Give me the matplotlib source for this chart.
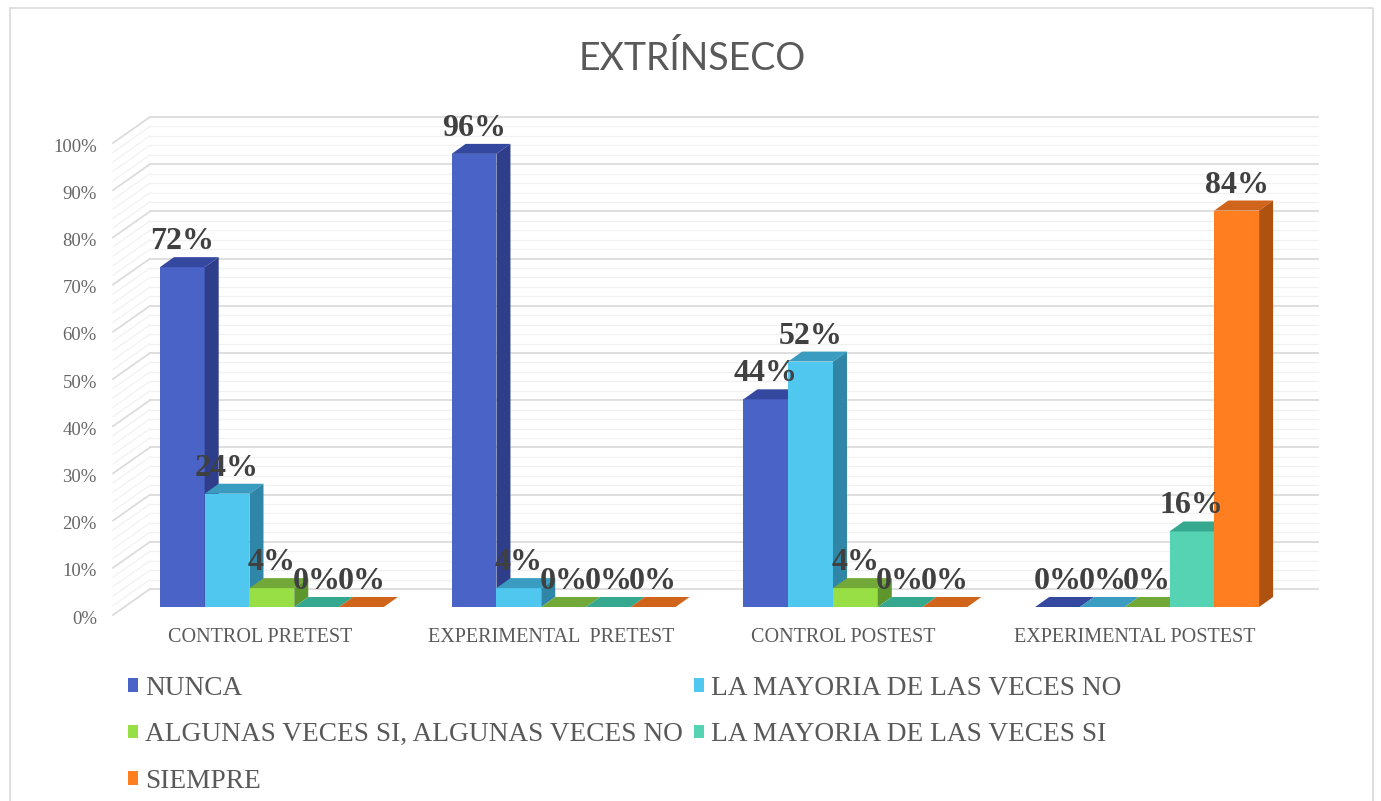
import numpy as np
import matplotlib
matplotlib.use("Agg")
import matplotlib.pyplot as plt
from matplotlib.patches import Polygon, Rectangle, Patch
from matplotlib import transforms

# data
groups = ["CONTROL PRETEST", "EXPERIMENTAL  PRETEST", "CONTROL POSTEST", "EXPERIMENTAL POSTEST"]
series = ["NUNCA", "LA MAYORIA DE LAS VECES NO", "ALGUNAS VECES SI, ALGUNAS VECES NO",
          "LA MAYORIA DE LAS VECES SI", "SIEMPRE"]
nunca = [0.72, 0.96, 0.44, 0.00]
mayoria_no = [0.24, 0.04, 0.52, 0.00]
algunas = [0.04, 0.00, 0.04, 0.00]
mayoria_si = [0.00, 0.00, 0.00, 0.16]
siempre = [0.00, 0.00, 0.00, 0.84]
values = [nunca, mayoria_no, algunas, mayoria_si, siempre]
y_ticks = np.arange(0, 1.001, 0.1)

# front / top / side shades for each series
faces = [
    ("#4A63C6", "#3548A0", "#2E3E8A"),
    ("#4FC7EF", "#3A9CC0", "#2F86A6"),
    ("#98DE45", "#72A838", "#5E962E"),
    ("#55D3B3", "#36A890", "#2E9580"),
    ("#FF7F20", "#D0641A", "#B0520F"),
]

W, H = 1381, 801
fig = plt.figure(figsize=(W / 100, H / 100), dpi=100)
ax = fig.add_axes([126 / W, 194 / H, 1167 / W, 472 / H])
ax.set_xlim(-0.5, 3.5)
ax.set_ylim(0, 1)
for s in ax.spines.values():
    s.set_visible(False)
ax.set_xticks([])

px_x = 1 / 291.75
px_y = 1 / 472
ddx, ddy = 14 * px_x, 10 * px_y   # bar depth
wall_dy = 18 * px_y
wall_x0 = -0.5 + 24 * px_x
wall_x1 = -0.5 + 1192 * px_x
side_x0 = -0.5 - 13 * px_x

# back wall + side wall gridlines (minor every 2 %, major every 10 %)
for k in range(51):
    v = k * 0.02
    major = k % 5 == 0
    col = "#DCDCDC" if major else "#F1F1F1"
    lw = 1.3 if major else 0.9
    ax.plot([wall_x0, wall_x1], [v + wall_dy, v + wall_dy], color=col, lw=lw,
            zorder=1, clip_on=False)
    ax.plot([side_x0, wall_x0], [v - 8 * px_y, v + wall_dy], color=col, lw=lw,
            zorder=1, clip_on=False)

# 3d-looking clustered bars
w = 0.1535
x = np.arange(len(groups))
for i, vals in enumerate(values):
    front, top, side = faces[i]
    xs = x + (i - 2) * w
    z = 3 + i
    ax.bar(xs, vals, width=w, color=front, edgecolor="none", zorder=z)
    for xc, v in zip(xs, vals):
        x0 = xc - w / 2
        ax.add_patch(Polygon([(x0, v), (x0 + w, v), (x0 + w + ddx, v + ddy), (x0 + ddx, v + ddy)],
                             closed=True, facecolor=top, edgecolor="none", zorder=z, clip_on=False))
        if v > 0:
            ax.add_patch(Polygon([(x0 + w, 0), (x0 + w + ddx, ddy), (x0 + w + ddx, v + ddy), (x0 + w, v)],
                                 closed=True, facecolor=side, edgecolor="none", zorder=z, clip_on=False))
        ax.text(xc, v + ddy + 8 * px_y, f"{round(v * 100)}%", ha="center", va="baseline",
                fontsize=23, fontweight="bold", family="Liberation Serif", color="#404040",
                zorder=20, clip_on=False)

# category labels
for g, name in zip(x, groups):
    ax.text(g - 12 * px_x, -30 * px_y, name, ha="center", va="center", fontsize=14.5,
            family="Liberation Serif", color="#595959", clip_on=False)

# y axis labels
ax.set_yticks(y_ticks)
ax.set_yticklabels([f"{int(round(t * 100))}%" for t in y_ticks])
ax.tick_params(axis="y", length=0, pad=21, labelsize=13.5, labelcolor="#666666")
for lbl in ax.get_yticklabels():
    lbl.set_family("Liberation Serif")
    lbl.set_transform(lbl.get_transform() + transforms.ScaledTranslation(0, -0.1, fig.dpi_scale_trans))

fig.text(692 / W, 1 - 59 / H, "EXTRÍNSECO", ha="center", va="center", fontsize=27,
         color="#595959", family="Lato", fontweight="normal")

# legend, filled row by row
handles = [Patch(facecolor=f[0], edgecolor="none") for f in faces]
order = [0, 2, 4, 1, 3]
fig.legend([handles[o] for o in order], [series[o] for o in order],
           loc="upper left", bbox_to_anchor=(128 / W, 1 - 676 / H), ncol=2, frameon=False,
           prop={"family": "Liberation Serif", "size": 19.7}, labelcolor="#595959",
           handlelength=0.38, handleheight=0.38, handletextpad=0.25, columnspacing=0.4,
           labelspacing=0.78, borderaxespad=0, borderpad=0)

fig.patches.append(Rectangle((10 / W, -0.01), 1363 / W, 1 - 8 / H + 0.01, transform=fig.transFigure,
                             fill=False, edgecolor="#D9D9D9", lw=1.2))

fig.savefig("out.png", dpi=100)
